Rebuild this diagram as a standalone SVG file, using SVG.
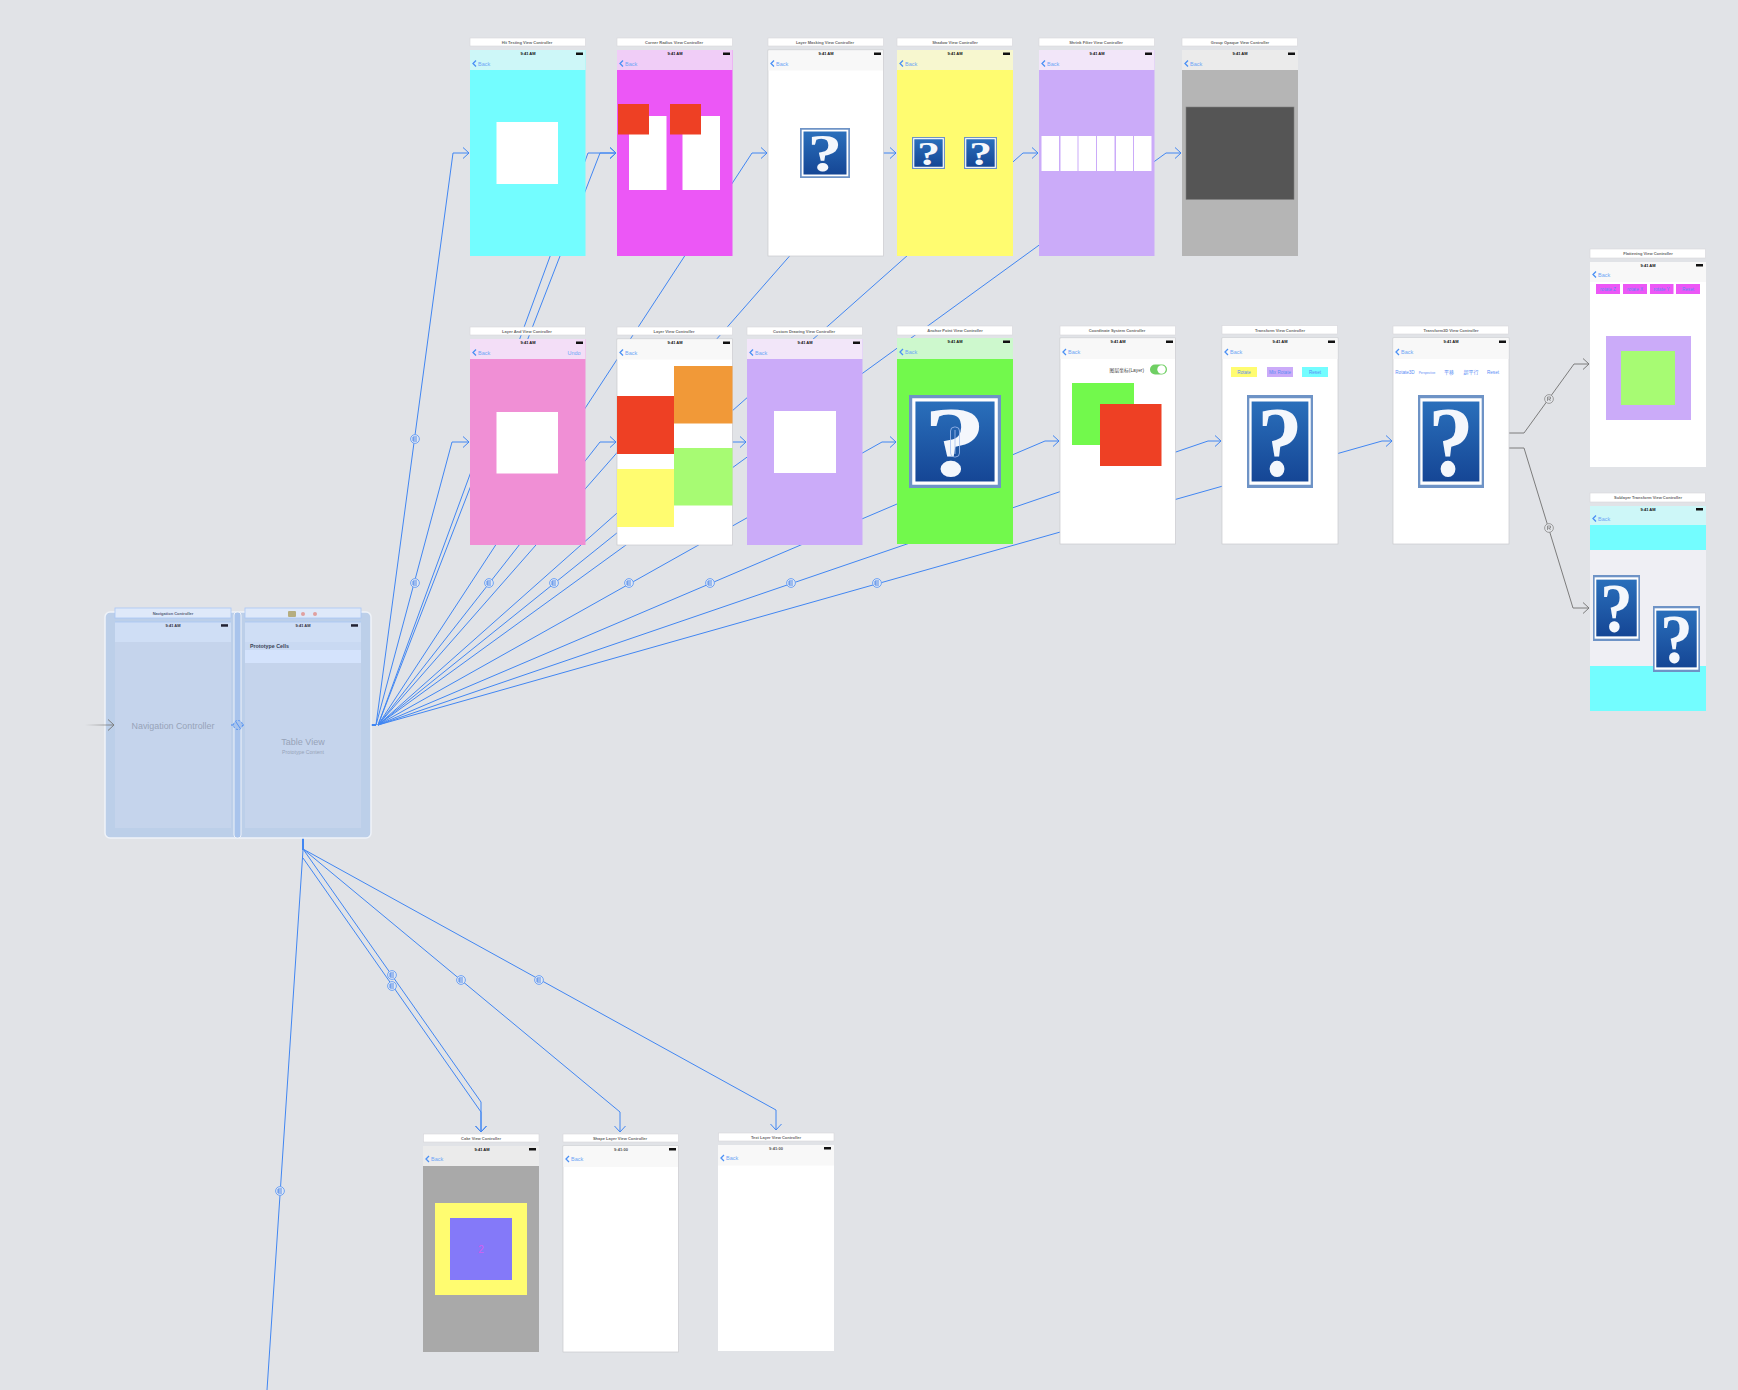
<svg xmlns="http://www.w3.org/2000/svg" width="1738" height="1390" viewBox="0 0 1738 1390">
<style>
text{font-family:"Liberation Sans","Noto Sans CJK SC",sans-serif}
.tc{fill:#fff;stroke:#d6d6da;stroke-width:.6}
.tt{font-size:4px;fill:#6a6a6a;text-anchor:middle;font-weight:bold}
.tm{font-size:4px;fill:#111;text-anchor:middle;font-weight:bold}
.bat{fill:#111}
.wb{fill:#fff;stroke:#c9c9cd;stroke-width:.7}
.bk{font-size:5.5px;fill:#6ea6f6}
.ch{fill:none;stroke:#4a90f5;stroke-width:1.300}
.wh{fill:#fff}
.btn{font-size:4.6px;fill:#5a8cf5;text-anchor:middle}
.q{font-family:"Liberation Serif",serif;font-size:106px;font-weight:bold;fill:#f4f7fc;text-anchor:middle}
.c{fill:none;stroke:#4186f2;stroke-width:1}
.a{marker-end:url(#ab)}
.g{fill:none;stroke:#7c7c7c;stroke-width:1;marker-end:url(#ag)}
.ph{fill:#c5d4ec}
.pt{fill:#dfe9f9;stroke:#a9c6f4;stroke-width:.8}
.pn{fill:#cfdef5}
.pl{fill:#97a3b8;text-anchor:middle}
</style>
<defs>
<marker id="ab" markerUnits="userSpaceOnUse" markerWidth="16" markerHeight="16" refX="8" refY="8" orient="auto" overflow="visible"><path d="M2,2.500L8,8L2,13.500" fill="none" stroke="#4186f2" stroke-width="1"/></marker>
<marker id="ag" markerUnits="userSpaceOnUse" markerWidth="16" markerHeight="16" refX="8" refY="8" orient="auto" overflow="visible"><path d="M2,2.500L8,8L2,13.500" fill="none" stroke="#7c7c7c" stroke-width="1"/></marker>
<linearGradient id="ig" x1="0" y1="0" x2="0" y2="1"><stop offset="0" stop-color="#2a6fbb"/><stop offset="1" stop-color="#154695"/></linearGradient>
<linearGradient id="fade" gradientUnits="userSpaceOnUse" x1="85" y1="725" x2="113" y2="725"><stop offset="0" stop-color="#7c7c7c" stop-opacity="0"/><stop offset="1" stop-color="#7c7c7c"/></linearGradient>
<symbol id="qb" viewBox="0 0 100 100" preserveAspectRatio="none"><rect width="100" height="100" fill="#6e93c6"/><rect x="3.500" y="3.500" width="93" height="93" fill="#fff"/><rect x="7" y="7" width="86" height="86" fill="url(#ig)"/></symbol>
<symbol id="sb" viewBox="-5 -5 10 10" overflow="visible"><circle r="4.400" fill="#dfe6f2" stroke="#6fa3f5" stroke-width="1"/><path d="M-2,-2H2M-2,0H2M-2,2H2M-2,-2V2" fill="none" stroke="#3579ea" stroke-width=".8"/></symbol>
<symbol id="sg" viewBox="-5 -5 10 10" overflow="visible"><circle r="4.400" fill="#e1e3e7" stroke="#8a8a8a" stroke-width=".8"/><path d="M-1.500,-2H1.500V0H-1.500M0,0L1.500,2M-1.500,-2V2" fill="none" stroke="#666" stroke-width=".6"/></symbol>
</defs>
<rect width="1738" height="1390" fill="#e1e3e7"/>

<g id="connectors">
<path d="M361,725H376" fill="none" stroke="#4186f2" stroke-width="2"/>
<path d="M303,828V850" fill="none" stroke="#4186f2" stroke-width="2"/>
<path class="c a" d="M376,725L453,153H469"/>
<path class="c a" d="M376,725L452,442H469"/>
<path class="c a" d="M378,725L588,153H616"/>
<path class="c a" d="M378,725L600,153H616"/>
<path class="c a" d="M378,725L752,153H767"/>
<path class="c a" d="M378,725L880,153H896"/>
<path class="c a" d="M378,725L1023,153H1038"/>
<path class="c a" d="M378,725L1166,153H1181"/>
<path class="c a" d="M378,725L600,442H616"/>
<path class="c a" d="M378,725L730,442H746"/>
<path class="c a" d="M378,725L882,442H896"/>
<path class="c a" d="M378,725L1045,441H1059"/>
<path class="c a" d="M378,725L1208,441H1221"/>
<path class="c a" d="M378,725L1382,441H1392"/>
<path class="c a" d="M303,849L481,1102V1132"/>
<path class="c a" d="M303,858L481,1112V1132"/>
<path class="c a" d="M303,849L620,1112V1132"/>
<path class="c a" d="M303,849L776,1110V1130"/>
<path class="c" d="M303,850L267,1390"/>
<path class="g" d="M1509,433H1524L1574,364H1589"/>
<path class="g" d="M1509,448H1524L1573,608H1589"/>
<use href="#sb" x="410" y="434" width="10" height="10"/>
<use href="#sb" x="410" y="578" width="10" height="10"/>
<use href="#sb" x="484" y="578" width="10" height="10"/>
<use href="#sb" x="549" y="578" width="10" height="10"/>
<use href="#sb" x="624" y="578" width="10" height="10"/>
<use href="#sb" x="705" y="578" width="10" height="10"/>
<use href="#sb" x="786" y="578" width="10" height="10"/>
<use href="#sb" x="872" y="578" width="10" height="10"/>
<use href="#sb" x="387" y="970" width="10" height="10"/>
<use href="#sb" x="387" y="981" width="10" height="10"/>
<use href="#sb" x="456" y="975" width="10" height="10"/>
<use href="#sb" x="534" y="975" width="10" height="10"/>
<use href="#sb" x="275" y="1186" width="10" height="10"/>
<use href="#sg" x="1544" y="394" width="10" height="10"/>
<use href="#sg" x="1544" y="523" width="10" height="10"/>
</g>

<g id="nav-table-scene">
<rect x="105" y="612" width="266" height="226" rx="5" fill="#bccfe9" stroke="#eff3f9" stroke-width="1.500"/>
<rect x="234" y="612" width="7" height="226" rx="3" fill="#a9c4ec" stroke="#eff3f9" stroke-width="1"/>
</g>
<g id="navigation-controller">
<rect class="pt" x="115" y="608" width="116" height="10"/>
<text x="173" y="615" style="font-size:4px;font-weight:bold;text-anchor:middle;fill:#55627a">Navigation Controller</text>
<rect class="ph" x="115" y="622" width="116" height="206"/>
<rect class="pn" x="115" y="622" width="116" height="20"/>
<path d="M115,622H231" stroke="#a9c6f4" stroke-width=".8"/>
<text class="tm" x="173" y="626.500" style="fill:#334">9:41 AM</text><rect x="221" y="624.200" width="7" height="2.500" fill="#223"/>
<text class="pl" x="173" y="728.500" font-size="8.900">Navigation Controller</text>
</g>
<g id="table-view">
<rect class="pt" x="245" y="608" width="116" height="10"/>
<rect x="288" y="611" width="8" height="6" rx="1" fill="#b6ae80"/><circle cx="303" cy="614" r="2" fill="#e0a0a0"/><circle cx="315" cy="614" r="2" fill="#e0a0a0"/>
<rect class="ph" x="245" y="622" width="116" height="206"/>
<rect class="pn" x="245" y="622" width="116" height="20"/>
<path d="M245,622H361" stroke="#a9c6f4" stroke-width=".8"/>
<rect x="245" y="642" width="116" height="8" fill="#c9d9f2"/>
<rect x="245" y="650" width="116" height="13" fill="#d4e3fc"/>
<text class="tm" x="303" y="626.500" style="fill:#334">9:41 AM</text><rect x="351" y="624.200" width="7" height="2.500" fill="#223"/>
<text x="250" y="648" font-size="5.300" font-weight="bold" fill="#3a4356">Prototype Cells</text>
<text class="pl" x="303" y="744.500" font-size="9">Table View</text>
<text class="pl" x="303" y="754" font-size="5.200">Prototype Content</text>
</g>
<g id="embed-segue">
<path d="M231,725H245" fill="none" stroke="#4186f2" stroke-width="1" stroke-dasharray="3 2"/>
<circle cx="238" cy="725" r="4.500" fill="#a9c4ec" stroke="#4186f2" stroke-width=".8" stroke-dasharray="2 1.500"/>
<path d="M236,722L240,728" stroke="#4186f2" stroke-width=".8"/>
</g>
<g id="entry-arrow">
<path d="M85,725H113" fill="none" stroke="url(#fade)" stroke-width="1"/>
<path d="M108,719.500L114,725L108,730.500" fill="none" stroke="#7c7c7c" stroke-width="1"/>
</g>

<g id="hit-testing">
<rect class="tc" x="470" y="38" width="115.500" height="8"/><text class="tt" x="527" y="43.500">Hit Testing View Controller</text>
<rect x="470" y="50" width="115.500" height="206" fill="#73fdff"/><rect x="470" y="50" width="115.500" height="20" fill="#cdf7f8"/>
<text class="tm" x="528" y="55">9:41 AM</text><rect class="bat" x="576" y="52.500" width="7" height="2.500"/>
<path class="ch" d="M476,60.500L473,63.500L476,66.500"/><text class="bk" x="478" y="65.500">Back</text>
<rect class="wh" x="496.500" y="122" width="61.500" height="62"/>
</g>
<g id="corner-radius">
<rect class="tc" x="617" y="38" width="115.500" height="8"/><text class="tt" x="674" y="43.500">Corner Radius View Controller</text>
<rect x="617" y="50" width="115.500" height="206" fill="#ec57f6"/><rect x="617" y="50" width="115.500" height="20" fill="#f0cdf7"/>
<text class="tm" x="675" y="55">9:41 AM</text><rect class="bat" x="723" y="52.500" width="7" height="2.500"/>
<path class="ch" d="M623,60.500L620,63.500L623,66.500"/><text class="bk" x="625" y="65.500">Back</text>
<rect class="wh" x="629" y="116" width="37.500" height="74"/><rect class="wh" x="682.500" y="116" width="37.500" height="74"/>
<rect x="618" y="104" width="31" height="30.500" fill="#ee4024"/><rect x="670" y="104" width="31" height="30.500" fill="#ee4024"/>
</g>
<g id="layer-masking">
<rect class="tc" x="768" y="38" width="115.500" height="8"/><text class="tt" x="825" y="43.500">Layer Masking View Controller</text>
<rect class="wb" x="768" y="50" width="115.500" height="206"/><rect x="768.500" y="50.500" width="114.500" height="20" fill="#f8f8f8"/>
<text class="tm" x="826" y="55">9:41 AM</text><rect class="bat" x="874" y="52.500" width="7" height="2.500"/>
<path class="ch" d="M774,60.500L771,63.500L774,66.500"/><text class="bk" x="776" y="65.500">Back</text>
<g transform="translate(800,128) scale(.5)"><use href="#qb" width="100" height="100"/><text class="q" transform="translate(50,86) scale(1.300,1)">?</text></g>
</g>
<g id="shadow">
<rect class="tc" x="897" y="38" width="115.500" height="8"/><text class="tt" x="955" y="43.500">Shadow View Controller</text>
<rect x="897" y="50" width="116" height="206" fill="#fffc70"/><rect x="897" y="50" width="116" height="20" fill="#f7f7cf"/>
<text class="tm" x="955" y="55">9:41 AM</text><rect class="bat" x="1003" y="52.500" width="7" height="2.500"/>
<path class="ch" d="M903,60.500L900,63.500L903,66.500"/><text class="bk" x="905" y="65.500">Back</text>
<g transform="translate(912,137) scale(.33,.32)"><use href="#qb" width="100" height="100"/><text class="q" transform="translate(50,86) scale(1.300,1)">?</text></g>
<g transform="translate(964,137) scale(.33,.32)"><use href="#qb" width="100" height="100"/><text class="q" transform="translate(50,86) scale(1.300,1)">?</text></g>
</g>
<g id="shrink-filter">
<rect class="tc" x="1039" y="38" width="115.500" height="8"/><text class="tt" x="1096" y="43.500">Shrink Filter View Controller</text>
<rect x="1039" y="50" width="115.500" height="206" fill="#cbabf9"/><rect x="1039" y="50" width="115.500" height="20" fill="#f2e6f9"/>
<text class="tm" x="1097" y="55">9:41 AM</text><rect class="bat" x="1145" y="52.500" width="7" height="2.500"/>
<path class="ch" d="M1045,60.500L1042,63.500L1045,66.500"/><text class="bk" x="1047" y="65.500">Back</text>
<rect class="wh" x="1041.500" y="136" width="17.500" height="35"/><rect class="wh" x="1060.500" y="136" width="17" height="35"/><rect class="wh" x="1078.500" y="136" width="17.500" height="35"/><rect class="wh" x="1097" y="136" width="17.500" height="35"/><rect class="wh" x="1116" y="136" width="17" height="35"/><rect class="wh" x="1134" y="136" width="17.500" height="35"/>
</g>
<g id="group-opacity">
<rect class="tc" x="1182" y="38" width="115.500" height="8"/><text class="tt" x="1240" y="43.500">Group Opaque View Controller</text>
<rect x="1182" y="50" width="116" height="206" fill="#b5b5b5"/><rect x="1182" y="50" width="116" height="20" fill="#ebebeb"/>
<text class="tm" x="1240" y="55">9:41 AM</text><rect class="bat" x="1288" y="52.500" width="7" height="2.500"/>
<path class="ch" d="M1188,60.500L1185,63.500L1188,66.500"/><text class="bk" x="1190" y="65.500">Back</text>
<rect x="1186" y="107" width="108" height="92.500" fill="#555" stroke="#808080" stroke-width=".6"/>
</g>

<g id="layer-and-view">
<rect class="tc" x="470" y="327" width="115.500" height="8"/><text class="tt" x="527" y="332.500">Layer And View Controller</text>
<rect x="470" y="339" width="115.500" height="206" fill="#f08fd5"/><rect x="470" y="339" width="115.500" height="20" fill="#f3def7"/>
<text class="tm" x="528" y="344">9:41 AM</text><rect class="bat" x="576" y="341.500" width="7" height="2.500"/>
<path class="ch" d="M476,349.500L473,352.500L476,355.500"/><text class="bk" x="478" y="354.500">Back</text>
<text class="bk" x="574" y="354.500" style="text-anchor:middle">Undo</text>
<rect class="wh" x="496.500" y="412" width="61.500" height="61.500"/>
</g>
<g id="layer-view">
<rect class="tc" x="617" y="327" width="115.500" height="8"/><text class="tt" x="674" y="332.500">Layer View Controller</text>
<rect class="wb" x="617" y="339" width="115.500" height="206"/><rect x="617.500" y="339.500" width="114.500" height="20" fill="#f8f8f8"/>
<text class="tm" x="675" y="344">9:41 AM</text><rect class="bat" x="723" y="341.500" width="7" height="2.500"/>
<path class="ch" d="M623,349.500L620,352.500L623,355.500"/><text class="bk" x="625" y="354.500">Back</text>
<rect x="674" y="366" width="58.500" height="57.500" fill="#f19938"/>
<rect x="617" y="396" width="57" height="58" fill="#ee4024"/>
<rect x="617" y="469" width="57" height="58" fill="#fffc70"/>
<rect x="674" y="448" width="58.500" height="57.500" fill="#a7fb73"/>
</g>
<g id="custom-drawing">
<rect class="tc" x="747" y="327" width="115.500" height="8"/><text class="tt" x="804" y="332.500">Custom Drawing View Controller</text>
<rect x="747" y="339" width="115.500" height="206" fill="#cbabf9"/><rect x="747" y="339" width="115.500" height="20" fill="#f2e6f9"/>
<text class="tm" x="805" y="344">9:41 AM</text><rect class="bat" x="853" y="341.500" width="7" height="2.500"/>
<path class="ch" d="M753,349.500L750,352.500L753,355.500"/><text class="bk" x="755" y="354.500">Back</text>
<rect class="wh" x="774" y="411" width="62" height="62"/>
</g>
<g id="anchor-point">
<rect class="tc" x="897" y="326" width="115.500" height="9"/><text class="tt" x="955" y="332">Anchor Point View Controller</text>
<rect x="897" y="338" width="116" height="206" fill="#72f94c"/><rect x="897" y="338" width="116" height="21" fill="#cdf8cd"/>
<text class="tm" x="955" y="343">9:41 AM</text><rect class="bat" x="1003" y="340.500" width="7" height="2.500"/>
<path class="ch" d="M903,349L900,352L903,355"/><text class="bk" x="905" y="354">Back</text>
<g transform="translate(909,395) scale(.92,.93)"><use href="#qb" width="100" height="100"/><text class="q" transform="translate(50,86) scale(1.300,1)">?</text></g>
<rect x="950.500" y="427" width="9" height="30" rx="4" fill="none" stroke="#a7c0f0" stroke-width=".8"/><path d="M955,430V454" stroke="#a7c0f0" stroke-width=".8"/>
</g>
<g id="coordinate-system">
<rect class="tc" x="1060" y="326" width="115.500" height="9"/><text class="tt" x="1117" y="332">Coordinate System Controller</text>
<rect class="wb" x="1060" y="338" width="115.500" height="206"/><rect x="1060.500" y="338.500" width="114.500" height="20.500" fill="#f8f8f8"/>
<text class="tm" x="1118" y="343">9:41 AM</text><rect class="bat" x="1166" y="340.500" width="7" height="2.500"/>
<path class="ch" d="M1066,349L1063,352L1066,355"/><text class="bk" x="1068" y="354">Back</text>
<text x="1144" y="371.500" font-size="4.800" text-anchor="end" fill="#444">图层坐标(Layer)</text>
<rect x="1150" y="364.500" width="17" height="10" rx="5" fill="#6fcf63"/><circle cx="1161.500" cy="369.500" r="4.200" fill="#fff"/>
<rect x="1072" y="383" width="62" height="62" fill="#72f94c"/>
<rect x="1100" y="404" width="61.500" height="62" fill="#ee4024"/>
</g>
<g id="transform">
<rect class="tc" x="1222" y="325.500" width="115.500" height="8.500"/><text class="tt" x="1280" y="331.500">Transform View Controller</text>
<rect class="wb" x="1222" y="338" width="116" height="206"/><rect x="1222.500" y="338" width="115" height="21" fill="#f8f8f8"/>
<text class="tm" x="1280" y="343">9:41 AM</text><rect class="bat" x="1328" y="340.500" width="7" height="2.500"/>
<path class="ch" d="M1228,349L1225,352L1228,355"/><text class="bk" x="1230" y="354">Back</text>
<rect x="1231" y="367" width="26" height="10" fill="#fffc70"/><text class="btn" x="1244" y="373.700">Rotate</text>
<rect x="1267" y="367" width="26" height="10" fill="#cbabf9"/><text class="btn" x="1280" y="373.700">Mix Rotate</text>
<rect x="1302" y="367" width="26" height="10" fill="#73fdff"/><text class="btn" x="1315" y="373.700">Reset</text>
<g transform="translate(1247,395) scale(.66,.93)"><use href="#qb" width="100" height="100"/><text class="q" transform="translate(50,86) scale(1.300,1)">?</text></g>
</g>
<g id="transform3d">
<rect class="tc" x="1393" y="326" width="115.500" height="8"/><text class="tt" x="1451" y="331.500">Transform3D View Controller</text>
<rect class="wb" x="1393" y="338" width="116" height="206"/><rect x="1393.500" y="338" width="115" height="21" fill="#f8f8f8"/>
<text class="tm" x="1451" y="343">9:41 AM</text><rect class="bat" x="1499" y="340.500" width="7" height="2.500"/>
<path class="ch" d="M1399,349L1396,352L1399,355"/><text class="bk" x="1401" y="354">Back</text>
<text class="btn" x="1405" y="373.500">Rotate3D</text><text class="btn" x="1427" y="373.500" style="font-size:3.200px">Perspective</text><text class="btn" x="1449" y="374" style="font-size:5px">平移</text><text class="btn" x="1471" y="374" style="font-size:5px">超平行</text><text class="btn" x="1493" y="373.500">Reset</text>
<g transform="translate(1418,395) scale(.66,.93)"><use href="#qb" width="100" height="100"/><text class="q" transform="translate(50,86) scale(1.300,1)">?</text></g>
</g>
<g id="flattening">
<rect class="tc" x="1590" y="249" width="115.500" height="9"/><text class="tt" x="1648" y="255">Flattening View Controller</text>
<rect x="1590" y="262" width="116" height="205" fill="#fff"/><rect x="1590" y="262" width="116" height="20" fill="#f8f8f8"/>
<text class="tm" x="1648" y="266.500">9:41 AM</text><rect class="bat" x="1696" y="264" width="7" height="2.500"/>
<path class="ch" d="M1596,271.500L1593,274.500L1596,277.500"/><text class="bk" x="1598" y="276.500">Back</text>
<rect x="1596" y="284" width="24" height="10" fill="#ec57f6"/><text class="btn" x="1608" y="290.700">rotate Z</text>
<rect x="1623" y="284" width="24" height="10" fill="#ec57f6"/><text class="btn" x="1635" y="290.700">rotate X</text>
<rect x="1650" y="284" width="23.500" height="10" fill="#ec57f6"/><text class="btn" x="1661.500" y="290.700">rotate Y</text>
<rect x="1676" y="284" width="24" height="10" fill="#ec57f6"/><text class="btn" x="1688" y="290.700">Reset</text>
<rect x="1606" y="336" width="85" height="84" fill="#cbabf9"/>
<rect x="1621" y="351" width="54" height="54" fill="#a7fb73"/>
</g>
<g id="sublayer-transform">
<rect class="tc" x="1590" y="493" width="115.500" height="9"/><text class="tt" x="1648" y="499">Sublayer Transform View Controller</text>
<rect x="1590" y="506" width="116" height="205" fill="#73fdff"/><rect x="1590" y="506" width="116" height="19" fill="#cdf7f8"/>
<rect x="1590" y="550" width="116" height="116" fill="#efeff4"/>
<text class="tm" x="1648" y="510.500">9:41 AM</text><rect class="bat" x="1696" y="508" width="7" height="2.500"/>
<path class="ch" d="M1596,515.500L1593,518.500L1596,521.500"/><text class="bk" x="1598" y="520.500">Back</text>
<g transform="translate(1593,575) scale(.47,.66)"><use href="#qb" width="100" height="100"/><text class="q" transform="translate(50,86) scale(1.300,1)">?</text></g>
<g transform="translate(1653,606) scale(.47,.66)"><use href="#qb" width="100" height="100"/><text class="q" transform="translate(50,86) scale(1.300,1)">?</text></g>
</g>
<g id="cake">
<rect class="tc" x="423.500" y="1134" width="115.500" height="8"/><text class="tt" x="481" y="1139.500">Cake View Controller</text>
<rect x="423" y="1146" width="116" height="206" fill="#a9a9a9"/><rect x="423" y="1146" width="116" height="20" fill="#ebebeb"/>
<text class="tm" x="482" y="1150.500">9:41 AM</text><rect class="bat" x="529" y="1148" width="7" height="2.500"/>
<path class="ch" d="M429,1156L426,1159L429,1162"/><text class="bk" x="431" y="1161">Back</text>
<rect x="435" y="1203" width="92" height="92" fill="#fffc70"/>
<rect x="450" y="1218" width="62" height="62" fill="#8479f9"/>
<text x="481" y="1253" font-size="10" text-anchor="middle" fill="#d65cf0">2</text>
</g>
<g id="shape-layer">
<rect class="tc" x="563" y="1134" width="115.500" height="8"/><text class="tt" x="620" y="1139.500">Shape Layer View Controller</text>
<rect class="wb" x="563" y="1146" width="115.500" height="206"/><rect x="563.500" y="1146" width="114.500" height="21" fill="#f8f8f8"/>
<text class="tm" x="621" y="1150.500" style="fill:#555">9:41:00</text><rect class="bat" x="669" y="1148" width="7" height="2.500"/>
<path class="ch" d="M569,1156L566,1159L569,1162"/><text class="bk" x="571" y="1161">Back</text>
</g>
<g id="text-layer">
<rect class="tc" x="718.500" y="1133" width="115.500" height="8"/><text class="tt" x="776" y="1138.500">Text Layer View Controller</text>
<rect x="718" y="1145" width="116" height="206" fill="#fff"/><rect x="718" y="1145" width="116" height="20.500" fill="#f8f8f8"/>
<text class="tm" x="776" y="1149.500" style="fill:#555">9:41:00</text><rect class="bat" x="824" y="1147" width="7" height="2.500"/>
<path class="ch" d="M724,1155L721,1158L724,1161"/><text class="bk" x="726" y="1160">Back</text>
</g>
</svg>
